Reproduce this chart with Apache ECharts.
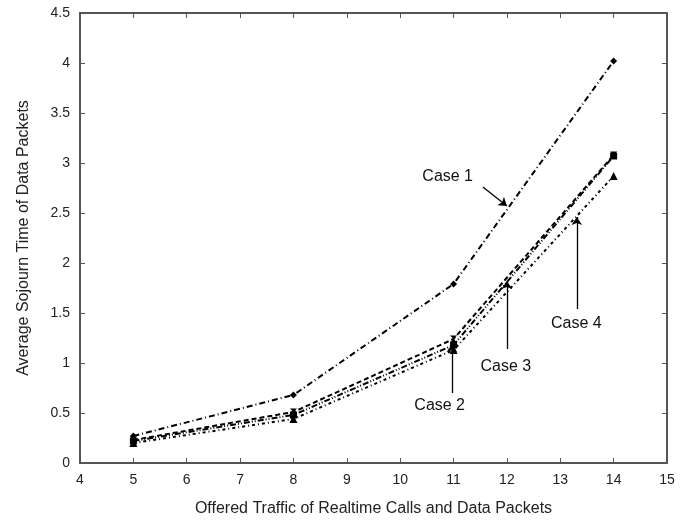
<!DOCTYPE html>
<html><head><meta charset="utf-8">
<script src="https://cdn.jsdelivr.net/npm/echarts@6/dist/echarts.min.js"></script>
<style>html,body{margin:0;padding:0;background:#fff}#c{width:688px;height:522px}</style>
</head><body><div id="c"></div>
<script>
var xValues = [5, 8, 11, 14];
var case1 = [0.27, 0.68, 1.79, 4.02];
var case2 = [0.23, 0.51, 1.24, 3.08];
var case3 = [0.22, 0.48, 1.18, 3.07];
var case4 = [0.20, 0.44, 1.13, 2.87];
var seriesNames = ['Case 1', 'Case 2', 'Case 3', 'Case 4'];
var xTitle = 'Offered Traffic of Realtime Calls and Data Packets';
var yTitle = 'Average Sojourn Time of Data Packets';
// annotation text anchors and arrows (data coordinates)
var annoText = [[10.89, 2.86], [10.74, 0.57], [11.98, 0.96], [13.3, 1.39]];
var annoArrow = [
  [[11.55, 2.76], [12.0, 2.57]],
  [[10.97, 0.70], [10.97, 1.19]],
  [[12.0, 1.14], [12.0, 1.82]],
  [[13.31, 1.54], [13.31, 2.46]]
];

function pairs(ys){ return xValues.map(function(x,i){return [x, ys[i]];}); }
var font = '"Liberation Sans", Arial, sans-serif';
var chart = echarts.init(document.getElementById('c'));
var dashStyles = [[6,3,1,3],[5,3],[6,2,1,2,1,2],[3,3,1,3]];
var symbols = ['diamond', 'path://M0,0 L10,0 L5,5 L10,10 L0,10 L5,5 Z', 'rect', 'triangle'];
var allData = [case1, case2, case3, case4];
var series = allData.map(function(d, i){
  return {
    name: seriesNames[i], type: 'line', data: pairs(d),
    symbol: symbols[i], symbolSize: i===3 ? 8 : 7,
    lineStyle: {color: '#000', width: 2, type: dashStyles[i]},
    itemStyle: {color: '#000'},
    animation: false, z: 3
  };
});
series.push({
  type: 'line', data: [], silent: true, animation: false,
  markLine: {
    symbol: ['none', 'arrow'], symbolSize: 8, silent: true, animation: false,
    lineStyle: {color: '#000', width: 1.3, type: 'solid'},
    label: {show: false},
    data: annoArrow.map(function(a){ return [{coord: a[0]}, {coord: a[1]}]; })
  }
});
var axisCommon = {
  axisLine: {show: true, onZero: false, lineStyle: {color: '#555', width: 2}},
  axisTick: {show: true, inside: true, length: 5, lineStyle: {color: '#555'}},
  splitLine: {show: false}
};
chart.setOption({
  backgroundColor: '#fff',
  animation: false,
  grid: {left: 80, right: 21, top: 13, bottom: 57},
  xAxis: [
    Object.assign({type: 'value', min: 4, max: 15, interval: 1, position: 'bottom',
      name: xTitle, nameLocation: 'middle', nameGap: 38,
      nameTextStyle: {fontFamily: font, fontSize: 16, color: '#222'},
      axisLabel: {fontFamily: font, fontSize: 14, color: '#222', margin: 10}}, axisCommon),
    Object.assign({type: 'value', min: 4, max: 15, interval: 1, position: 'top',
      axisLabel: {show: false}}, axisCommon)
  ],
  yAxis: [
    Object.assign({type: 'value', min: 0, max: 4.5, interval: 0.5, position: 'left',
      name: yTitle, nameLocation: 'middle', nameGap: 48,
      nameTextStyle: {fontFamily: font, fontSize: 16, color: '#222'},
      axisLabel: {fontFamily: font, fontSize: 14, color: '#222', margin: 10}}, axisCommon),
    Object.assign({type: 'value', min: 0, max: 4.5, interval: 0.5, position: 'right',
      axisLabel: {show: false}}, axisCommon)
  ],
  series: series
});
var texts = annoText.map(function(p, i){
  var px = chart.convertToPixel({xAxisIndex: 0, yAxisIndex: 0}, p);
  return {type: 'text', x: px[0], y: px[1], z: 10,
    style: {text: seriesNames[i], fill: '#111', font: '16px ' + font, align: 'center', verticalAlign: 'middle'}};
});
chart.setOption({graphic: texts});
</script></body></html>
